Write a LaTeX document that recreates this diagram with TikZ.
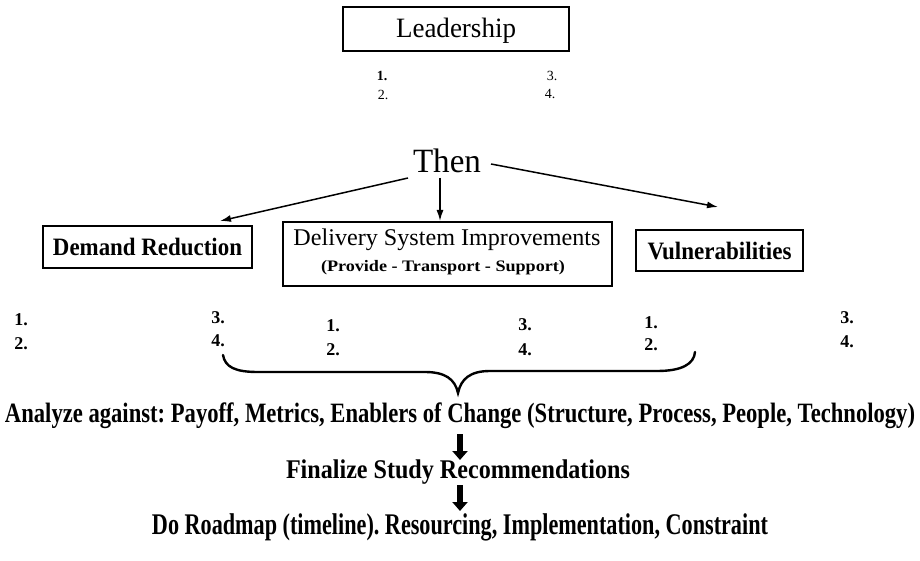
\documentclass[tikz,border=0pt]{standalone}
\usepackage{fontspec}
\setmainfont{Liberation Serif}
\usepackage{graphicx}
\usetikzlibrary{arrows.meta}
\frenchspacing
\newcommand{\fitw}[2]{\resizebox{#1}{\height}{#2}}
\tikzset{
  box/.style={draw, line width=1.4pt, inner sep=0pt},
  lbl/.style={inner sep=0pt, anchor=center},
  num/.style={inner sep=0pt, font=\fontsize{18}{18}\selectfont\bfseries},
  snum/.style={inner sep=0pt, font=\fontsize{14}{14}\selectfont},
  arr/.style={line width=1.5pt, -{Latex[length=11pt,width=7pt]}},
  bigarr/.style={line width=6pt, -{Triangle[length=9pt,width=15pt]}},
  brace/.style={line width=2.4pt, line cap=round}
}
\begin{document}
\begin{tikzpicture}[x=1pt,y=-1pt]
\useasboundingbox (0,0) rectangle (920,561);
% Leadership
\node[box, minimum width=226pt, minimum height=44pt] (lead) at (456,29) {};
\node[lbl] (leadt) at (456,31) {\fitw{120pt}{\fontsize{28}{28}\selectfont Leadership}};
\node[snum, font=\fontsize{14}{14}\selectfont\bfseries] (l1) at (382,76) {1.};
\node[snum] (l2) at (383,95) {2.};
\node[snum] (l3) at (552,76) {3.};
\node[snum] (l4) at (550,94) {4.};
% Then
\node[lbl] (then) at (447,161) {\fitw{68pt}{\fontsize{34}{34}\selectfont Then}};
% boxes
\node[box, minimum width=209pt, minimum height=42pt] (dem) at (147.5,247) {};
\node[lbl] (demt) at (147.5,247) {\fitw{189pt}{\fontsize{25}{25}\selectfont\bfseries Demand Reduction}};
\node[box, minimum width=329pt, minimum height=64pt] (del) at (447.5,254) {};
\node[lbl] (delt) at (447,240) {\fitw{307pt}{\fontsize{24}{24}\selectfont Delivery System Improvements}};
\node[lbl] (dels) at (443,268) {\fitw{244pt}{\fontsize{16}{16}\selectfont\bfseries (Provide - Transport - Support)}};
\node[box, minimum width=167pt, minimum height=41pt] (vul) at (719.5,250.5) {};
\node[lbl] (vult) at (719.5,251) {\fitw{144pt}{\fontsize{25}{25}\selectfont\bfseries Vulnerabilities}};
% arrows
\coordinate (ts1) at (408,178);
\coordinate (ts2) at (440,178);
\coordinate (ts3) at (491,164);
\coordinate (dtip) at (220,221);
\coordinate (mtip) at (440,221);
\coordinate (vtip) at (718,207);
\draw[arr] (ts1) -- (dtip);
\draw[arr] (ts2) -- (mtip);
\draw[arr] (ts3) -- (vtip);
% number lists
\node[num] (a1) at (21,320) {1.};
\node[num] (a2) at (21,344) {2.};
\node[num] (a3) at (218,318) {3.};
\node[num] (a4) at (218,341) {4.};
\node[num] (b1) at (333,326) {1.};
\node[num] (b2) at (333,350) {2.};
\node[num] (b3) at (525,325) {3.};
\node[num] (b4) at (525,350) {4.};
\node[num] (c1) at (651,323) {1.};
\node[num] (c2) at (651,345) {2.};
\node[num] (c3) at (847,318) {3.};
\node[num] (c4) at (847,342) {4.};
% brace
\coordinate (bl) at (223,355);
\coordinate (bt) at (458,393);
\coordinate (br) at (695,352);
\draw[brace] (bl) .. controls (225,367) and (235,372) .. (258,372) -- (425,372)
  .. controls (445,372) and (455,379) .. (bt)
  .. controls (461,379) and (470,371) .. (490,371) -- (657,371)
  .. controls (682,371) and (694,364) .. (br);
% bottom
\node[lbl] (ana) at (460,416) {\fitw{910pt}{\fontsize{28}{28}\selectfont\bfseries Analyze against: Payoff, Metrics, Enablers of Change (Structure, Process, People, Technology)}};
\node[lbl] (fin) at (458,472) {\fitw{344pt}{\fontsize{27}{27}\selectfont\bfseries Finalize Study Recommendations}};
\node[lbl] (road) at (460,527) {\fitw{616pt}{\fontsize{30}{30}\selectfont\bfseries Do Roadmap (timeline). Resourcing, Implementation, Constraint}};
\coordinate (a1s) at (460,434);
\coordinate (a1e) at (460,460);
\coordinate (a2s) at (460,485);
\coordinate (a2e) at (460,511);
\draw[bigarr] (a1s) -- (a1e);
\draw[bigarr] (a2s) -- (a2e);
\end{tikzpicture}
\end{document}
